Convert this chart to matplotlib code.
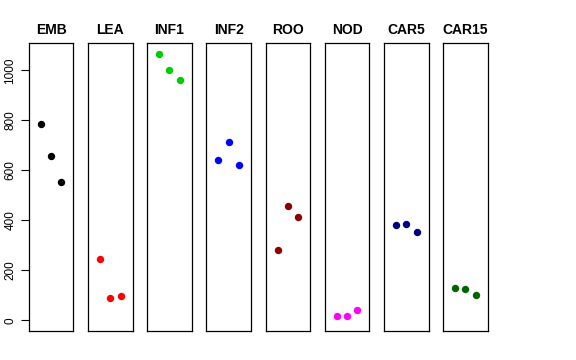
import matplotlib
matplotlib.use('Agg')
import matplotlib.pyplot as plt

plt.rcParams['font.family'] = ['Liberation Sans', 'DejaVu Sans']

# one panel per tissue, three replicates each
tissues = ['EMB', 'LEA', 'INF1', 'INF2', 'ROO', 'NOD', 'CAR5', 'CAR15']
values = {
    'EMB':   [786, 657, 554],
    'LEA':   [244, 88, 98],
    'INF1':  [1066, 1000, 962],
    'INF2':  [641, 713, 621],
    'ROO':   [280, 456, 413],
    'NOD':   [16, 16, 40],
    'CAR5':  [381, 386, 352],
    'CAR15': [128, 125, 101],
}
colors = ['black', 'red', '#00CD00', 'blue', '#8B0000', 'magenta', '#000080', '#006400']
yticks = [0, 200, 400, 600, 800, 1000]

W, H = 576, 360
fig = plt.figure(figsize=(W / 100, H / 100), dpi=100)

ymax = max(max(v) for v in values.values())
ylim = (0 - 0.04 * ymax, ymax * 1.04)

left0, step, pw = 28.7, 59.2, 44.7
top, bottom = 43.3, 331.0

for i, name in enumerate(tissues):
    x0 = left0 + i * step
    ax = fig.add_axes([x0 / W, 1 - bottom / H, pw / W, (bottom - top) / H])
    ax.plot([1, 2, 3], values[name], 'o', color=colors[i], ms=4.3)
    ax.set_xlim(-0.16, 4.16)
    ax.set_ylim(*ylim)
    ax.set_xticks([])
    for s in ax.spines.values():
        s.set_linewidth(0.9)
    if i == 0:
        ax.set_yticks(yticks)
        ax.set_yticklabels([str(t) for t in yticks], rotation=90, va='center', fontsize=8.5)
        ax.tick_params(axis='y', length=6, width=0.8, pad=3)
    else:
        ax.set_yticks([])
    ax.set_title(name, fontsize=10, fontweight='bold', pad=6.5)

fig.savefig('out.png', dpi=100)
